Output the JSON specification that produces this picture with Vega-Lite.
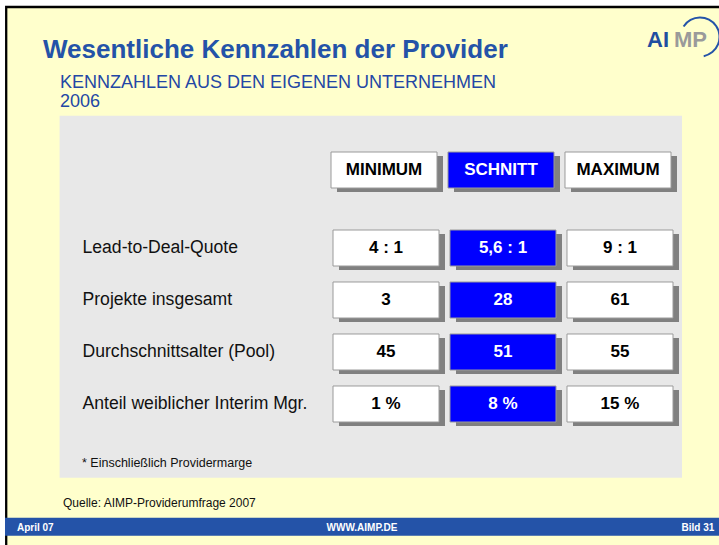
{
  "$schema": "https://vega.github.io/schema/vega-lite/v6.json",
  "width": 719,
  "height": 545,
  "autosize": {"type": "none"},
  "padding": 0,
  "background": "#ffffff",
  "config": {"view": {"stroke": null}, "font": "Liberation Sans"},
  "datasets": {
    "kennzahlen": [
      {"kennzahl": "Lead-to-Deal-Quote", "stat": "MINIMUM", "wert": "4 : 1"},
      {"kennzahl": "Lead-to-Deal-Quote", "stat": "SCHNITT", "wert": "5,6 : 1"},
      {"kennzahl": "Lead-to-Deal-Quote", "stat": "MAXIMUM", "wert": "9 : 1"},
      {"kennzahl": "Projekte insgesamt", "stat": "MINIMUM", "wert": "3"},
      {"kennzahl": "Projekte insgesamt", "stat": "SCHNITT", "wert": "28"},
      {"kennzahl": "Projekte insgesamt", "stat": "MAXIMUM", "wert": "61"},
      {"kennzahl": "Durchschnittsalter (Pool)", "stat": "MINIMUM", "wert": "45"},
      {"kennzahl": "Durchschnittsalter (Pool)", "stat": "SCHNITT", "wert": "51"},
      {"kennzahl": "Durchschnittsalter (Pool)", "stat": "MAXIMUM", "wert": "55"},
      {"kennzahl": "Anteil weiblicher Interim Mgr.", "stat": "MINIMUM", "wert": "1 %"},
      {"kennzahl": "Anteil weiblicher Interim Mgr.", "stat": "SCHNITT", "wert": "8 %"},
      {"kennzahl": "Anteil weiblicher Interim Mgr.", "stat": "MAXIMUM", "wert": "15 %"}
    ],
    "spalten": [{"stat": "MINIMUM"}, {"stat": "SCHNITT"}, {"stat": "MAXIMUM"}]
  },
  "resolve": {"scale": {"x": "independent", "y": "independent"}},
  "layer": [
    {
      "data": {"values": [{}]},
      "encoding": {
        "x": {"datum": 0, "type": "quantitative", "scale": {"type": "linear", "domain": [0, 719], "nice": false, "zero": false}, "axis": null},
        "y": {"datum": 0, "type": "quantitative", "scale": {"type": "linear", "domain": [0, 545], "nice": false, "zero": false, "reverse": true}, "axis": null}
      },
      "layer": [
        {"mark": {"type": "rect", "fill": "#FFFFCC", "stroke": "#000000", "strokeWidth": 2.3},
         "encoding": {"x": {"datum": 6.2, "type": "quantitative"}, "x2": {"datum": 780}, "y": {"datum": 7, "type": "quantitative"}, "y2": {"datum": 600}}},
        {"mark": {"type": "rect", "fill": "#E8E8E8"},
         "encoding": {"x": {"datum": 59.6, "type": "quantitative"}, "x2": {"datum": 682}, "y": {"datum": 115.7, "type": "quantitative"}, "y2": {"datum": 477.7}}},
        {"mark": {"type": "rect", "fill": "#2453A8"},
         "encoding": {"x": {"datum": 5, "type": "quantitative"}, "x2": {"datum": 780}, "y": {"datum": 517.7, "type": "quantitative"}, "y2": {"datum": 535.7}}},
        {"mark": {"type": "text", "text": "Wesentliche Kennzahlen der Provider", "align": "left", "baseline": "alphabetic", "fontSize": 26, "fontWeight": "bold", "fill": "#2453A8"},
         "encoding": {"x": {"datum": 43, "type": "quantitative"}, "y": {"datum": 58.3, "type": "quantitative"}}},
        {"mark": {"type": "text", "text": "KENNZAHLEN AUS DEN EIGENEN UNTERNEHMEN", "align": "left", "baseline": "alphabetic", "fontSize": 18, "fill": "#2347A5"},
         "encoding": {"x": {"datum": 60, "type": "quantitative"}, "y": {"datum": 87.5, "type": "quantitative"}}},
        {"mark": {"type": "text", "text": "2006", "align": "left", "baseline": "alphabetic", "fontSize": 18, "fill": "#2347A5"},
         "encoding": {"x": {"datum": 60, "type": "quantitative"}, "y": {"datum": 106.7, "type": "quantitative"}}},
        {"mark": {"type": "text", "text": "* Einschließlich Providermarge", "align": "left", "baseline": "alphabetic", "fontSize": 12.5, "fill": "#111111"},
         "encoding": {"x": {"datum": 82, "type": "quantitative"}, "y": {"datum": 467, "type": "quantitative"}}},
        {"mark": {"type": "text", "text": "Quelle: AIMP-Providerumfrage 2007", "align": "left", "baseline": "alphabetic", "fontSize": 12, "fill": "#111111"},
         "encoding": {"x": {"datum": 63, "type": "quantitative"}, "y": {"datum": 507, "type": "quantitative"}}},
        {"mark": {"type": "text", "text": "April 07", "align": "left", "baseline": "alphabetic", "fontSize": 10, "fontWeight": "bold", "fill": "#ffffff"},
         "encoding": {"x": {"datum": 17, "type": "quantitative"}, "y": {"datum": 530.5, "type": "quantitative"}}},
        {"mark": {"type": "text", "text": "WWW.AIMP.DE", "align": "center", "baseline": "alphabetic", "fontSize": 10, "fontWeight": "bold", "fill": "#ffffff"},
         "encoding": {"x": {"datum": 362, "type": "quantitative"}, "y": {"datum": 530.5, "type": "quantitative"}}},
        {"mark": {"type": "text", "text": "Bild 31", "align": "right", "baseline": "alphabetic", "fontSize": 10, "fontWeight": "bold", "fill": "#ffffff"},
         "encoding": {"x": {"datum": 714.3, "type": "quantitative"}, "y": {"datum": 530.5, "type": "quantitative"}}},
        {"mark": {"type": "arc", "innerRadius": 18.5, "outerRadius": 20.5, "theta": -1.0, "theta2": 2.95, "fill": "#2453A8"},
         "encoding": {"x": {"datum": 700, "type": "quantitative"}, "y": {"datum": 37, "type": "quantitative"}}},
        {"mark": {"type": "text", "text": "AI", "align": "left", "baseline": "alphabetic", "fontSize": 22, "fontWeight": "bold", "fill": "#1F4EA0"},
         "encoding": {"x": {"datum": 647, "type": "quantitative"}, "y": {"datum": 46.7, "type": "quantitative"}}},
        {"mark": {"type": "text", "text": "MP", "align": "left", "baseline": "alphabetic", "fontSize": 22, "fontWeight": "bold", "fill": "#9A9A9A"},
         "encoding": {"x": {"datum": 674, "type": "quantitative"}, "y": {"datum": 46.7, "type": "quantitative"}}}
      ]
    },
    {
      "data": {"name": "spalten"},
      "encoding": {
        "x": {"field": "stat", "type": "nominal", "scale": {"domain": ["MINIMUM", "SCHNITT", "MAXIMUM"], "range": [331, 671], "paddingInner": 0.094, "paddingOuter": 0}, "axis": null},
        "y": {"datum": "Kopfzeile", "type": "nominal", "scale": {"range": [152, 188], "paddingInner": 0, "paddingOuter": 0}, "axis": null}
      },
      "layer": [
        {"mark": {"type": "rect", "fill": "#808080", "xOffset": 6, "yOffset": 4}},
        {"mark": {"type": "rect", "stroke": "#9A9A9A", "strokeWidth": 1},
         "encoding": {"fill": {"condition": {"test": "datum.stat === 'SCHNITT'", "value": "#0000FF"}, "value": "#FFFFFF"}}},
        {"mark": {"type": "text", "fontSize": 17, "fontWeight": "bold", "baseline": "middle", "align": "center"},
         "encoding": {"text": {"field": "stat"}, "color": {"condition": {"test": "datum.stat === 'SCHNITT'", "value": "#FFFFFF"}, "value": "#000000"}}}
      ]
    },
    {
      "data": {"name": "kennzahlen"},
      "encoding": {
        "x": {"field": "stat", "type": "nominal", "scale": {"domain": ["MINIMUM", "SCHNITT", "MAXIMUM"], "range": [333, 673], "paddingInner": 0.094, "paddingOuter": 0}, "axis": null},
        "y": {"field": "kennzahl", "type": "nominal",
              "scale": {"domain": ["Lead-to-Deal-Quote", "Projekte insgesamt", "Durchschnittsalter (Pool)", "Anteil weiblicher Interim Mgr."], "range": [230, 422], "paddingInner": 0.30769, "paddingOuter": 0},
              "axis": {"orient": "left", "title": null, "domain": false, "ticks": false, "tickSize": 0, "grid": false, "labelAlign": "left", "labelBaseline": "middle", "labelPadding": -82, "labelFontSize": 17.6, "labelFont": "Liberation Sans", "labelColor": "#111111", "labelLimit": 0}}
      },
      "layer": [
        {"mark": {"type": "rect", "fill": "#808080", "xOffset": 6, "yOffset": 4}},
        {"mark": {"type": "rect", "stroke": "#9A9A9A", "strokeWidth": 1},
         "encoding": {"fill": {"condition": {"test": "datum.stat === 'SCHNITT'", "value": "#0000FF"}, "value": "#FFFFFF"}}},
        {"mark": {"type": "text", "fontSize": 17, "fontWeight": "bold", "baseline": "middle", "align": "center"},
         "encoding": {"text": {"field": "wert"}, "color": {"condition": {"test": "datum.stat === 'SCHNITT'", "value": "#FFFFFF"}, "value": "#000000"}}}
      ]
    }
  ]
}
